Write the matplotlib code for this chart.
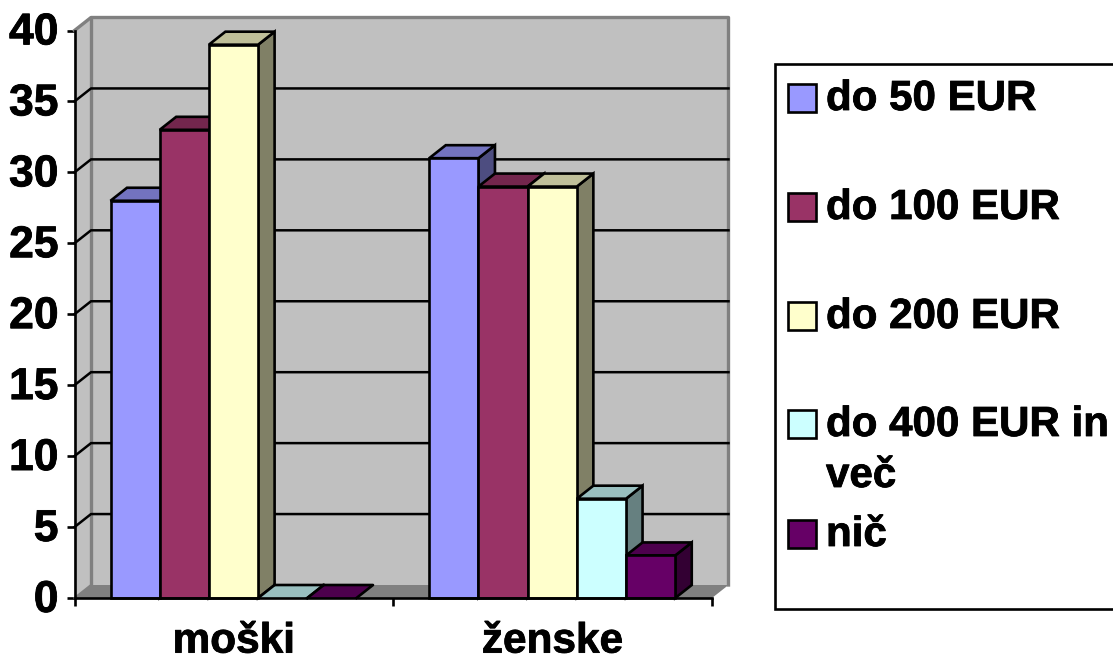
import matplotlib
matplotlib.use("Agg")
import matplotlib.pyplot as plt
from matplotlib.patches import Polygon, Rectangle
from matplotlib.transforms import ScaledTranslation
import matplotlib.patheffects as pe
import matplotlib.colors as mc

categories = ["moški", "ženske"]
series = ["do 50 EUR", "do 100 EUR", "do 200 EUR", "do 400 EUR in\nveč", "nič"]
values = {
    "do 50 EUR": [28, 31],
    "do 100 EUR": [33, 29],
    "do 200 EUR": [39, 29],
    "do 400 EUR in\nveč": [0, 7],
    "nič": [0, 3],
}
colors = ["#9999FF", "#993366", "#FFFFCC", "#CCFFFF", "#660066"]
yticks = [0, 5, 10, 15, 20, 25, 30, 35, 40]

W, H = 1113, 662
plt.rcParams["font.family"] = ["Liberation Sans", "DejaVu Sans"]
plt.rcParams["font.weight"] = "bold"
fig = plt.figure(figsize=(W / 100, H / 100), dpi=100)
heavy = [pe.withStroke(linewidth=0.6, foreground="black")]

L, R, T, B = 74.5, 712, 30.5, 598
ax = fig.add_axes([L / W, 1 - B / H, (R - L) / W, (B - T) / H])
ax.set_xlim(0, 2)
ax.set_ylim(0, 40)
ax.patch.set_visible(False)
for s in ["top", "right"]:
    ax.spines[s].set_visible(False)
for s in ["left", "bottom"]:
    ax.spines[s].set_linewidth(1.9)
    ax.spines[s].set_zorder(20)

dx = 16.5 / ((R - L) / 2)
dy = 13.0 / ((B - T) / 40)
LW = 1.9

def poly(pts, fc, ec="none", lw=0, z=1):
    ax.add_patch(Polygon(pts, closed=True, facecolor=fc, edgecolor=ec, linewidth=lw,
                         zorder=z, clip_on=False, joinstyle="miter"))

# walls
poly([(0, 0), (dx, dy), (dx, 40 + dy), (0, 40)], "#C0C0C0", z=1)
poly([(dx, dy), (2 + dx, dy), (2 + dx, 40 + dy), (dx, 40 + dy)], "#C0C0C0", z=1)
poly([(0, 0), (2, 0), (2 + dx, dy), (dx, dy)], "#808080", z=1)
ax.plot([dx, dx], [dy, 40 + dy], color="#808080", lw=2.4, zorder=2, clip_on=False)
ax.plot([0, dx, 2 + dx, 2 + dx], [40, 40 + dy, 40 + dy, dy], color="#808080", lw=2.4, zorder=2,
        clip_on=False)
ax.plot([0, dx], [0, dy], color="#808080", lw=1.5, zorder=2, clip_on=False)

# gridlines
for v in yticks[1:-1]:
    ax.plot([0, dx, 2 + dx], [v, v + dy, v + dy], color="black", lw=1.8, zorder=3, clip_on=False)

# bars
gap = 36.0 / ((R - L) / 2)
bw = 49.2 / ((R - L) / 2)

def shade(c, f):
    r, g, b = mc.to_rgb(c)
    return (r * f, g * f, b * f)

for ci in range(len(categories)):
    for si, name in enumerate(series):
        v = values[name][ci]
        x0 = ci + gap + si * bw
        x1 = x0 + bw
        z = 5 + si * 0.1 + ci
        c = colors[si]
        if v > 0:
            poly([(x1, 0), (x1 + dx, dy), (x1 + dx, v + dy), (x1, v)], shade(c, 0.5), "black", LW, z)
        poly([(x0, v), (x1, v), (x1 + dx, v + dy), (x0 + dx, v + dy)], shade(c, 0.75), "black" if v > 0 else "none", LW if v > 0 else 0, z)
        if v > 0:
            poly([(x0, 0), (x1, 0), (x1, v), (x0, v)], c, "black", LW, z + 0.01)
        else:
            ax.plot([x0, x0 + dx], [0, dy], color="black", lw=LW, zorder=z, clip_on=False)
            ax.plot([x0 + dx, x1 + dx, x1], [dy, dy, 0], color="black", lw=LW, zorder=z, clip_on=False)

# axes ticks
ax.set_yticks(yticks)
ax.set_yticklabels([str(v) for v in yticks], fontsize=32, fontweight="bold")
ax.tick_params(axis="y", length=5.5, width=1.9, pad=6)
shift = ScaledTranslation(0, 1.5 / 72, fig.dpi_scale_trans)
for t in ax.get_yticklabels():
    t.set_transform(t.get_transform() + shift)
    t.set_path_effects(heavy)
ax.set_xticks([0, 1, 2])
ax.set_xticklabels([])
ax.tick_params(axis="x", which="major", length=6, width=1.9)
ax.set_xticks([0.5, 1.5], minor=True)
ax.set_xticklabels(categories, minor=True, fontsize=30.5, fontweight="bold")
ax.tick_params(axis="x", which="minor", length=0, pad=17)
for t in ax.get_xticklabels(minor=True):
    t.set_path_effects(heavy)

# legend in pixel coordinates
lg = fig.add_axes([0, 0, 1, 1])
lg.set_xlim(0, W)
lg.set_ylim(H, 0)
lg.axis("off")
lg.patch.set_visible(False)
lg.add_patch(Rectangle((775, 64), 400, 545, facecolor="white", edgecolor="black", linewidth=1.9, clip_on=True))
rows = [98, 207, 316, 424, 534]
for name, c, y in zip(series, colors, rows):
    lg.add_patch(Rectangle((788, y - 14), 27.5, 28, facecolor=c, edgecolor="black", linewidth=1.9))
    parts = name.split("\n")
    for i, part in enumerate(parts):
        lg.text(826, y + 1 + i * 51, part, fontsize=30.3, fontweight="bold", va="center", ha="left",
                path_effects=heavy)

fig.savefig("out.png", dpi=100)
